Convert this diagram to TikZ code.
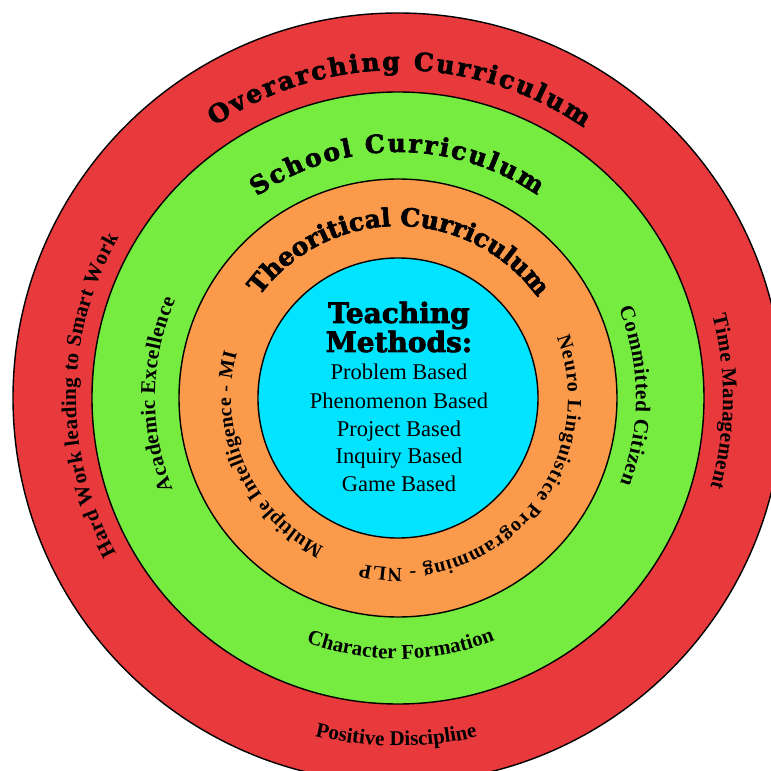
\documentclass[tikz,border=0pt]{standalone}
\usepackage{fontspec}
\setmainfont{Liberation Serif}
\newfontfamily\headfamily{DejaVu Serif}[BoldFeatures={FakeBold=2.5}]
\usetikzlibrary{decorations.text}
\definecolor{ringred}{HTML}{E8393C}
\definecolor{ringgreen}{HTML}{76EB40}
\definecolor{ringorange}{HTML}{FA9A4A}
\definecolor{ringcyan}{HTML}{00E4FF}
\newcommand\hfont{\headfamily\bfseries\fontsize{25}{25}\selectfont}
\newcommand\lfont{\bfseries\fontsize{21}{21}\selectfont}
\newcommand\ofont{\bfseries\fontsize{20}{20}\selectfont}
\newcommand\ringtext[5]{\path[decorate,decoration={text along path,text={|#4|#5},text align=fit to path}] (#2:#1pt) arc[start angle=#2,end angle=#3,radius=#1pt];}
\tikzset{
  ring/.style={draw=black,line width=1.4pt},
  methodhead/.style={anchor=base,inner sep=0pt,font=\headfamily\bfseries\fontsize{28}{28}\selectfont},
  methoditem/.style={anchor=base,inner sep=0pt,font=\fontsize{22.5}{22.5}\selectfont},
}
\begin{document}
\begin{tikzpicture}[x=1pt,y=1pt]
\useasboundingbox (-398,-373) rectangle (373,398);
\begin{scope}
\clip (-398,-373) rectangle (373,398);
\fill[white] (-398,-373) rectangle (373,398);
\filldraw[ring,fill=ringred] (0,0) circle[radius=385pt];
\filldraw[ring,fill=ringgreen] (0,0) circle[radius=306pt];
\filldraw[ring,fill=ringorange] (0,0) circle[radius=219pt];
\filldraw[ring,fill=ringcyan] (0,0) circle[radius=140pt];
\end{scope}
% headings
\ringtext{328}{124}{55.5}{\hfont}{Overarching Curriculum}
\ringtext{246}{125}{55.5}{\hfont}{School Curriculum}
\ringtext{172}{143.6}{36}{\hfont}{Theoritical Curriculum}
% red ring
\ringtext{322}{208.9}{150.2}{\lfont}{Hard Work leading to Smart Work}
\ringtext{325}{14.7}{-16}{\lfont}{Time Management}
\ringtext{348}{256.2}{283.2}{\lfont}{Positive Discipline}
% green ring
\ringtext{243}{202}{156.3}{\lfont}{Academic Excellence}
\ringtext{238}{22}{-21}{\lfont}{Committed Citizen}
\ringtext{261}{249.4}{291.8}{\lfont}{Character Formation}
% orange ring
\ringtext{167}{243.7}{164.5}{\ofont}{Multiple Intelligence - MI}
\ringtext{170}{21}{-102.7}{\ofont}{Neuro Linguistice Programming - NLP}
% centre
\node[methodhead] (t1) at (1,75) {Teaching};
\node[methodhead] (t2) at (1,46) {Methods:};
\node[methoditem] (m1) at (1,18) {Problem Based};
\node[methoditem] (m2) at (1,-10) {Phenomenon Based};
\node[methoditem] (m3) at (1,-38) {Project Based};
\node[methoditem] (m4) at (1,-65) {Inquiry Based};
\node[methoditem] (m5) at (1,-93) {Game Based};
\end{tikzpicture}
\end{document}
